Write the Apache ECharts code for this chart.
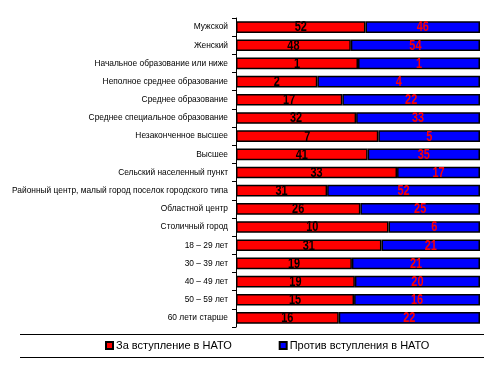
<!DOCTYPE html>
<html>
<head>
<meta charset="utf-8">
<script src="https://cdn.jsdelivr.net/npm/echarts@6/dist/echarts.min.js"></script>
<style>html,body{margin:0;padding:0;background:#fff}#c{width:497px;height:381px}</style>
</head>
<body>
<div id="c"></div>
<script>
const categories = [
  'Мужской',
  'Женский',
  'Начальное образование или ниже',
  'Неполное среднее образование',
  'Среднее образование',
  'Среднее специальное образование',
  'Незаконченное высшее',
  'Высшее',
  'Сельский населенный пункт',
  'Районный центр, малый город поселок городского типа',
  'Областной центр',
  'Столичный город',
  '18 – 29 лет',
  '30 – 39 лет',
  '40 – 49 лет',
  '50 – 59 лет',
  '60 лети старше'
];
const za = [52, 48, 1, 2, 17, 32, 7, 41, 33, 31, 26, 10, 31, 19, 19, 15, 16];
const protiv = [46, 54, 1, 4, 22, 33, 5, 35, 17, 52, 25, 6, 21, 21, 20, 16, 22];
const seriesNames = ['За вступление в НАТО', 'Против вступления в НАТО'];

const totals = za.map((v, i) => v + protiv[i]);
const zaShare = za.map((v, i) => v / totals[i]);
const protivShare = protiv.map((v, i) => v / totals[i]);

// label rows: [category index, segment start share, segment end share, raw value, series index]
const labelRows = [];
za.forEach((v, i) => labelRows.push([i, 0, zaShare[i], v, 0]));
protiv.forEach((v, i) => labelRows.push([i, zaShare[i], 1, v, 1]));

const labelColors = ['#000000', '#ff0000'];

const chart = echarts.init(document.getElementById('c'));
chart.setOption({
  animation: false,
  grid: { left: 236, right: 17, top: 18, bottom: 54, containLabel: false, outerBoundsMode: 'none' },
  xAxis: { type: 'value', min: 0, max: 1, show: false },
  yAxis: {
    type: 'category',
    data: categories,
    inverse: true,
    axisLine: { show: true, lineStyle: { color: '#000', width: 1 } },
    axisTick: { show: true, length: 4, lineStyle: { color: '#000' } },
    axisLabel: { color: '#000', fontSize: 8.4, fontFamily: '"Liberation Sans", Arial, sans-serif', margin: 8 },
    splitLine: { show: false }
  },
  legend: {
    data: seriesNames,
    bottom: 25,
    left: 100,
    itemGap: 47,
    itemWidth: 7,
    itemHeight: 7,
    icon: 'rect',
    textStyle: { color: '#000', fontSize: 11, fontFamily: '"Liberation Sans", Arial, sans-serif', padding: [0, 0, 0, -2] }
  },
  graphic: [
    { type: 'line', shape: { x1: 20, y1: 334.5, x2: 484, y2: 334.5 }, style: { stroke: '#000', lineWidth: 1 } },
    { type: 'line', shape: { x1: 20, y1: 357.5, x2: 484, y2: 357.5 }, style: { stroke: '#000', lineWidth: 1 } }
  ],
  series: [
    {
      name: seriesNames[0], type: 'bar', stack: 'a', data: zaShare,
      barCategoryGap: '36%',
      itemStyle: { color: '#ff0000', borderColor: '#000', borderWidth: 1.5 }
    },
    {
      name: seriesNames[1], type: 'bar', stack: 'a', data: protivShare,
      barCategoryGap: '36%',
      itemStyle: { color: '#0000ff', borderColor: '#000', borderWidth: 1.5 }
    },
    {
      type: 'custom',
      data: labelRows,
      z: 10,
      silent: true,
      encode: { x: [1, 2], y: 0 },
      renderItem: function (params, api) {
        const cat = api.value(0);
        const mid = (api.value(1) + api.value(2)) / 2;
        const pt = api.coord([mid, cat]);
        return {
          type: 'text',
          x: pt[0],
          y: pt[1] + 0.5,
          scaleX: 0.78,
          style: {
            text: String(api.value(3)),
            fill: labelColors[api.value(4)],
            font: 'bold 14px "Liberation Sans", Arial, sans-serif',
            align: 'center',
            verticalAlign: 'middle'
          }
        };
      }
    }
  ]
});
</script>
</body>
</html>
